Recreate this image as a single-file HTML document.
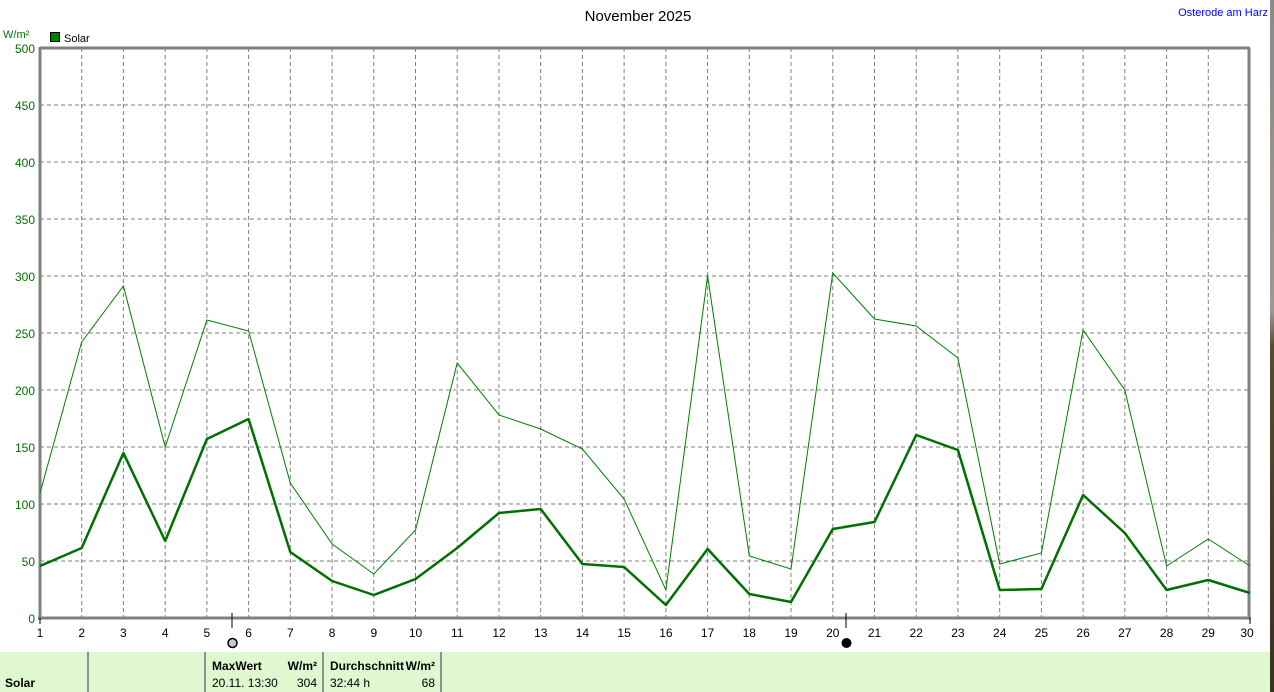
<!DOCTYPE html>
<html><head><meta charset="utf-8"><style>
html,body{margin:0;padding:0;background:#fff;}
body{width:1274px;height:692px;overflow:hidden;position:relative;font-family:"Liberation Sans",sans-serif;}
svg text{font-family:"Liberation Sans",sans-serif;}
</style></head><body>
<svg width="1274" height="692" xmlns="http://www.w3.org/2000/svg" style="position:absolute;left:0;top:0">
<defs><linearGradient id="sg" x1="0" y1="0" x2="0" y2="1">
<stop offset="0" stop-color="#8a8a8a"/><stop offset="0.45" stop-color="#a09890"/><stop offset="0.5" stop-color="#5a4a30"/><stop offset="1" stop-color="#3a3020"/></linearGradient></defs>
<rect x="1270" y="0" width="4" height="692" fill="url(#sg)"/>
<text x="638" y="21" font-size="15" text-anchor="middle" fill="#000">November 2025</text>
<text x="1268" y="16" font-size="11" text-anchor="end" fill="#0000ff">Osterode am Harz</text>
<text x="3" y="38" font-size="11" fill="#007000">W/m²</text>
<rect x="50.5" y="32.5" width="9" height="9" fill="#008000" stroke="#000"/>
<text x="64" y="42" font-size="11" fill="#000">Solar</text>
<g stroke="#808080" stroke-dasharray="4,3" stroke-width="1">
<line x1="40" x2="1250" y1="105" y2="105"/><line x1="40" x2="1250" y1="162" y2="162"/><line x1="40" x2="1250" y1="219" y2="219"/><line x1="40" x2="1250" y1="276" y2="276"/><line x1="40" x2="1250" y1="333" y2="333"/><line x1="40" x2="1250" y1="390" y2="390"/><line x1="40" x2="1250" y1="447" y2="447"/><line x1="40" x2="1250" y1="504" y2="504"/><line x1="40" x2="1250" y1="561" y2="561"/>
<line y1="48" y2="618" x1="81.7" x2="81.7"/><line y1="48" y2="618" x1="123.4" x2="123.4"/><line y1="48" y2="618" x1="165.2" x2="165.2"/><line y1="48" y2="618" x1="206.9" x2="206.9"/><line y1="48" y2="618" x1="248.6" x2="248.6"/><line y1="48" y2="618" x1="290.3" x2="290.3"/><line y1="48" y2="618" x1="332.1" x2="332.1"/><line y1="48" y2="618" x1="373.8" x2="373.8"/><line y1="48" y2="618" x1="415.5" x2="415.5"/><line y1="48" y2="618" x1="457.2" x2="457.2"/><line y1="48" y2="618" x1="499" x2="499"/><line y1="48" y2="618" x1="540.7" x2="540.7"/><line y1="48" y2="618" x1="582.4" x2="582.4"/><line y1="48" y2="618" x1="624.1" x2="624.1"/><line y1="48" y2="618" x1="665.9" x2="665.9"/><line y1="48" y2="618" x1="707.6" x2="707.6"/><line y1="48" y2="618" x1="749.3" x2="749.3"/><line y1="48" y2="618" x1="791" x2="791"/><line y1="48" y2="618" x1="832.8" x2="832.8"/><line y1="48" y2="618" x1="874.5" x2="874.5"/><line y1="48" y2="618" x1="916.2" x2="916.2"/><line y1="48" y2="618" x1="957.9" x2="957.9"/><line y1="48" y2="618" x1="999.7" x2="999.7"/><line y1="48" y2="618" x1="1041.4" x2="1041.4"/><line y1="48" y2="618" x1="1083.1" x2="1083.1"/><line y1="48" y2="618" x1="1124.8" x2="1124.8"/><line y1="48" y2="618" x1="1166.6" x2="1166.6"/><line y1="48" y2="618" x1="1208.3" x2="1208.3"/>
</g>
<g stroke="#808080" fill="none">
<line x1="40" y1="48" x2="1250" y2="48" stroke-width="3"/>
<line x1="1249" y1="48" x2="1249" y2="618" stroke-width="3"/>
<line x1="40" y1="47" x2="40" y2="620" stroke-width="3"/>
<line x1="38" y1="618" x2="1251" y2="618" stroke-width="3"/>
</g>
<g font-size="12" fill="#007000" text-anchor="end">
<text x="35" y="53">500</text><text x="35" y="110">450</text><text x="35" y="167">400</text><text x="35" y="224">350</text><text x="35" y="281">300</text><text x="35" y="338">250</text><text x="35" y="395">200</text><text x="35" y="452">150</text><text x="35" y="509">100</text><text x="35" y="566">50</text><text x="35" y="623">0</text>
</g>
<g stroke="#000"><line x1="40" y1="618" x2="40" y2="624"/><line x1="1250" y1="618" x2="1250" y2="624"/>
<line x1="232" y1="613" x2="232" y2="628"/><line x1="846" y1="613" x2="846" y2="628"/></g>
<g font-size="12" fill="#000" text-anchor="middle">
<text x="40" y="637">1</text><text x="81.7" y="637">2</text><text x="123.4" y="637">3</text><text x="165.2" y="637">4</text><text x="206.9" y="637">5</text><text x="248.6" y="637">6</text><text x="290.3" y="637">7</text><text x="332.1" y="637">8</text><text x="373.8" y="637">9</text><text x="415.5" y="637">10</text><text x="457.2" y="637">11</text><text x="499" y="637">12</text><text x="540.7" y="637">13</text><text x="582.4" y="637">14</text><text x="624.1" y="637">15</text><text x="665.9" y="637">16</text><text x="707.6" y="637">17</text><text x="749.3" y="637">18</text><text x="791" y="637">19</text><text x="832.8" y="637">20</text><text x="874.5" y="637">21</text><text x="916.2" y="637">22</text><text x="957.9" y="637">23</text><text x="999.7" y="637">24</text><text x="1041.4" y="637">25</text><text x="1083.1" y="637">26</text><text x="1124.8" y="637">27</text><text x="1166.6" y="637">28</text><text x="1208.3" y="637">29</text><text x="1247" y="637">30</text>
</g>
<circle cx="232.5" cy="643" r="4.5" fill="#c8c8c8" stroke="#000" stroke-width="1.5"/>
<circle cx="846.5" cy="643" r="4.5" fill="#000" stroke="#000"/>
<polyline fill="none" stroke="#008000" stroke-width="1" points="40,493 81.7,342 123.4,286 165.2,447 206.9,320 248.6,331 290.3,483 332.1,544 373.8,574 415.5,530 457.2,363 499,415 540.7,429 582.4,449 624.1,499 665.9,590 707.6,276 749.3,556 791,569 832.8,273 874.5,319 916.2,326 957.9,358 999.7,564 1041.4,553 1083.1,330 1124.8,390 1166.6,566 1208.3,539 1250,566"/>
<polyline fill="none" stroke="#007000" stroke-width="2.5" stroke-linejoin="round" points="40,566 81.7,548 123.4,453 165.2,541 206.9,439 248.6,419 290.3,552 332.1,581 373.8,595 415.5,579 457.2,548 499,513 540.7,509 582.4,564 624.1,567 665.9,605 707.6,549 749.3,594 791,602 832.8,529 874.5,522 916.2,435 957.9,450 999.7,590 1041.4,589 1083.1,495 1124.8,533 1166.6,590 1208.3,580 1250,593"/>
<rect x="0" y="652" width="1270" height="40" fill="#e0f8d0"/>
<g stroke="#909090" stroke-width="2"><line x1="88" y1="652" x2="88" y2="692"/><line x1="205" y1="652" x2="205" y2="692"/><line x1="323" y1="652" x2="323" y2="692"/><line x1="441" y1="652" x2="441" y2="692"/></g>
<g font-size="12" fill="#000">
<text x="5" y="687" font-weight="bold">Solar</text>
<text x="212" y="670" font-weight="bold">MaxWert</text>
<text x="317" y="670" font-weight="bold" text-anchor="end">W/m²</text>
<text x="212" y="687">20.11.  13:30</text>
<text x="317" y="687" text-anchor="end">304</text>
<text x="330" y="670" font-weight="bold">Durchschnitt</text>
<text x="435" y="670" font-weight="bold" text-anchor="end">W/m²</text>
<text x="330" y="687">32:44 h</text>
<text x="435" y="687" text-anchor="end">68</text>
</g>
</svg>
</body></html>
